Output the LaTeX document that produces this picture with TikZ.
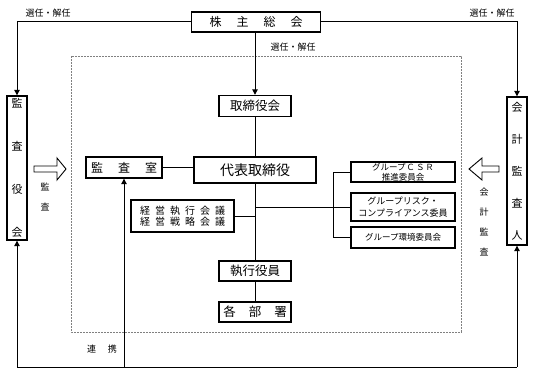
\documentclass[tikz,border=0pt]{standalone}
\usepackage{fontspec}
\setmainfont{Noto Sans CJK JP}
\usetikzlibrary{arrows.meta,calc}

\begin{document}
\begin{tikzpicture}[x=1pt,y=-1pt,
  box/.style={draw,line width=1.4pt,inner sep=0pt,minimum height=21pt},
  lbl/.style={inner sep=0pt,align=center,font=\fontsize{9}{20}\selectfont},
  link/.style={line width=1pt},
  arr/.style={link,-{Triangle[length=5.5pt,width=5.5pt]}},
  hollow/.style={line width=.9pt,line join=miter}]
\useasboundingbox (0,0) rectangle (534,374);

\draw[gray,dash pattern=on 2pt off 1pt,line width=.8pt] (71,56) rectangle (461,332);

\node[box,minimum width=129pt,minimum height=20pt,font=\fontsize{12}{14}\selectfont] (soukai) at (256,22) {株\hspace{15pt}主\hspace{15pt}総\hspace{15pt}会};

\node[box,minimum width=20pt,minimum height=144pt,align=center,font=\fontsize{11}{43}\selectfont] (kansayaku) at (17,168) {監\\査\\役\\会};
\node[box,minimum width=20pt,minimum height=148pt,align=center,font=\fontsize{11}{32}\selectfont] (kaikei) at (517,171) {会\\計\\監\\査\\人};

\node[box,minimum width=72pt,font=\fontsize{12.5}{14}\selectfont] (torishimari) at (255,106) {取締役会};
\node[box,minimum width=122pt,minimum height=26pt,font=\fontsize{14}{16}\selectfont] (daihyo) at (255,170) {代表取締役};
\node[box,minimum width=76pt,font=\fontsize{12}{14}\selectfont] (kansashitsu) at (124,167.5) {監\hspace{15pt}査\hspace{15pt}室};
\node[box,minimum width=103pt,minimum height=32pt,align=center,font=\fontsize{10}{10.5}\selectfont] (keiei) at (182.5,216)
  {経\hspace{5pt}営\hspace{5pt}執\hspace{5pt}行\hspace{5pt}会\hspace{5pt}議\\経\hspace{5pt}営\hspace{5pt}戦\hspace{5pt}略\hspace{5pt}会\hspace{5pt}議};
\node[box,minimum width=72pt,minimum height=20pt,font=\fontsize{12.5}{14}\selectfont] (shikkou) at (255,271) {執行役員};
\node[box,minimum width=72pt,minimum height=20pt,font=\fontsize{12.5}{14}\selectfont] (kakubu) at (255,312) {各\hspace{13pt}部\hspace{13pt}署};

\node[box,minimum width=104pt,minimum height=20pt,align=center,font=\fontsize{8.5}{10}\selectfont] (csr) at (403,172)
  {グループ\hspace{1pt}Ｃ\hspace{1pt}Ｓ\hspace{1pt}Ｒ\\推進委員会};
\node[box,minimum width=104pt,minimum height=28pt,align=center,font=\fontsize{9}{12}\selectfont] (risk) at (403,207) {グループリスク・\\コンプライアンス委員};
\node[box,minimum width=104pt,minimum height=21pt,font=\fontsize{8.5}{10}\selectfont] (kankyo) at (403,237.5) {グループ環境委員会};

\draw[arr] (soukai.west) -| (kansayaku.north);
\draw[arr] (soukai.east) -| (kaikei.north);
\draw[arr] (soukai.south -| torishimari.north) -- (torishimari.north);
\node[lbl] (sennin1) at (48,13) {選任・解任};
\node[lbl] (sennin2) at (492,13) {選任・解任};
\node[lbl] (sennin3) at (293,47) {選任・解任};

\draw[link] (torishimari.south) -- (daihyo.north);
\draw[link] (daihyo.south) -- (shikkou.north);
\draw[link] (shikkou.south) -- (kakubu.north);
\draw[link] (kansashitsu.east) -- (kansashitsu.east -| daihyo.west);
\draw[link] (keiei.east) -- (keiei.east -| daihyo.south);
\draw[link] (risk.west -| daihyo.south) -- (risk.west);
\draw[link] (csr.west) -- ++(-17,0) |- (kankyo.west);

\coordinate (base) at (0,367);
\draw[link] (kansayaku.south |- base) -- (kaikei.south |- base);
\draw[arr] (kansayaku.south |- base) -- (kansayaku.south);
\draw[arr] (kaikei.south |- base) -- (kaikei.south);
\draw[arr] (kansashitsu.south |- base) -- (kansashitsu.south);
\node[lbl] (renkei) at (102,349) {連\hspace{12pt}携};

\draw[hollow] (34,166) -- (57,166) -- (57,158) -- (66,169) -- (57,180) -- (57,172) -- (34,172) -- cycle;
\draw[hollow] (499,166) -- (482,166) -- (482,158) -- (469,169) -- (482,180) -- (482,172) -- (499,172) -- cycle;
\node[lbl] (kansa) at (45,197) {監\\査};
\node[lbl] (kaikeikansa) at (484,222) {会\\計\\監\\査};

\end{tikzpicture}
\end{document}
